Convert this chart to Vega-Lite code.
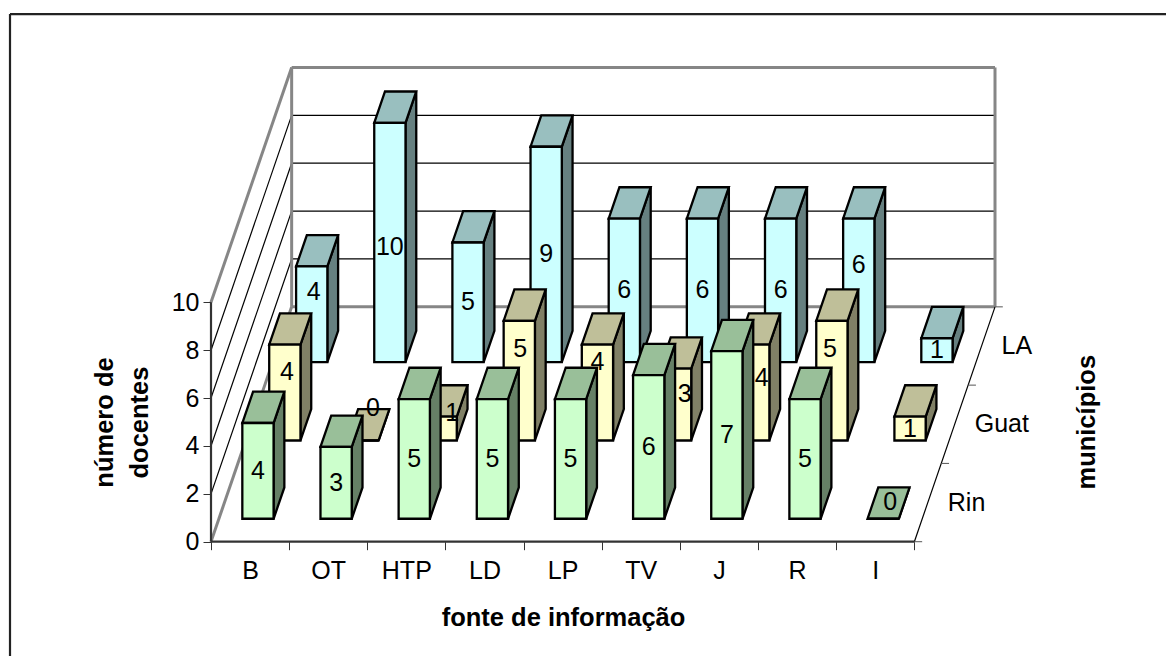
{
"$schema":"https://vega.github.io/schema/vega-lite/v6.json",
"width":1166,"height":656,"padding":0,"autosize":{"type":"none"},
"background":"white",
"view":{"stroke":null},
"config":{"font":"Liberation Sans"},
"data":{"name":"barras","values":[
{"fonte":"B","municipio":"Rin","docentes":4},{"fonte":"OT","municipio":"Rin","docentes":3},{"fonte":"HTP","municipio":"Rin","docentes":5},{"fonte":"LD","municipio":"Rin","docentes":5},{"fonte":"LP","municipio":"Rin","docentes":5},{"fonte":"TV","municipio":"Rin","docentes":6},{"fonte":"J","municipio":"Rin","docentes":7},{"fonte":"R","municipio":"Rin","docentes":5},{"fonte":"I","municipio":"Rin","docentes":0},
{"fonte":"B","municipio":"Guat","docentes":4},{"fonte":"OT","municipio":"Guat","docentes":0},{"fonte":"HTP","municipio":"Guat","docentes":1},{"fonte":"LD","municipio":"Guat","docentes":5},{"fonte":"LP","municipio":"Guat","docentes":4},{"fonte":"TV","municipio":"Guat","docentes":3},{"fonte":"J","municipio":"Guat","docentes":4},{"fonte":"R","municipio":"Guat","docentes":5},{"fonte":"I","municipio":"Guat","docentes":1},
{"fonte":"B","municipio":"LA","docentes":4},{"fonte":"OT","municipio":"LA","docentes":10},{"fonte":"HTP","municipio":"LA","docentes":5},{"fonte":"LD","municipio":"LA","docentes":9},{"fonte":"LP","municipio":"LA","docentes":6},{"fonte":"TV","municipio":"LA","docentes":6},{"fonte":"J","municipio":"LA","docentes":6},{"fonte":"R","municipio":"LA","docentes":6},{"fonte":"I","municipio":"LA","docentes":1}
]},
"transform":[
{"calculate":"indexof(['B','OT','HTP','LD','LP','TV','J','R','I'],datum.fonte)","as":"i"},
{"calculate":"indexof(['Rin','Guat','LA'],datum.municipio)","as":"s"},
{"calculate":"datum.i+0.3+(datum.s+0.293)*0.344","as":"xl"},
{"calculate":"datum.xl+0.4","as":"xr"},
{"calculate":"(datum.s+0.293)*3.27","as":"yb"},
{"calculate":"datum.yb+datum.docentes","as":"yt"},
{"calculate":"0","as":"a"},{"calculate":"1","as":"b"},
{"fold":["a","b"],"as":["k","t"]},
{"calculate":"datum.xr+datum.t*0.1376","as":"sx"},
{"calculate":"datum.yt+datum.t*1.308","as":"sy"},
{"calculate":"datum.yb+datum.t*1.308","as":"sy2"},
{"calculate":"datum.xl+datum.t*0.1376","as":"tx"},
{"calculate":"datum.xr+datum.t*0.1376","as":"tx2"},
{"calculate":"{'Guat|B':[2,-21],'Guat|OT':[10,-32],'Guat|HTP':[11,-16],'Guat|LD':[1,-32],'Guat|LP':[0,-31],'Guat|TV':[9,-11],'Guat|J':[8,-15],'Guat|R':[-2,-32],'LA|B':[2,-22],'LA|OT':[0,5],'LA|R':[0,-25],'Rin|I':[7,-17]}[datum.municipio+'|'+datum.fonte]||[0,0]","as":"shift"},
{"calculate":"(datum.xl+datum.xr)/2+datum.shift[0]/78.15","as":"lx"},
{"calculate":"(datum.yt+datum.yb)/2-datum.shift[1]/23.94","as":"ly"}
],
"layer":[
{"data":{"values":[{"linha":"g2"},{"linha":"g4"},{"linha":"g6"},{"linha":"g8"},{"linha":"e2"},{"linha":"e4"},{"linha":"e6"},{"linha":"e8"},{"linha":"p0"},{"linha":"p10"},{"linha":"f0"},{"linha":"f10"},{"linha":"ve"},{"linha":"vd"},{"linha":"ex"},{"linha":"ey"},{"linha":"cd"},{"linha":"t0"},{"linha":"t1"},{"linha":"t2"},{"linha":"t3"},{"linha":"bl"},{"linha":"bt"}]},
 "transform":[
 {"calculate":"{g2:[1.032,11.81,10.032,11.81,'grade'],g4:[1.032,13.81,10.032,13.81,'grade'],g6:[1.032,15.81,10.032,15.81,'grade'],g8:[1.032,17.81,10.032,17.81,'grade'],e2:[0,2,1.032,11.81,'grade'],e4:[0,4,1.032,13.81,'grade'],e6:[0,6,1.032,15.81,'grade'],e8:[0,8,1.032,17.81,'grade'],p0:[0,0,1.032,9.81,'parede'],p10:[0,10,1.032,19.81,'parede'],f0:[1.032,9.81,10.032,9.81,'parede'],f10:[1.032,19.81,10.032,19.81,'parede'],ve:[1.032,9.81,1.032,19.81,'parede'],vd:[10.032,9.81,10.032,19.81,'parede'],ex:[0,0,9,0,'eixo'],ey:[0,0,0,10,'eixo'],cd:[9,0,10.032,9.81,'grade'],t0:[9,0,9.1,0,'tick'],t1:[9.344,3.27,9.444,3.27,'tick'],t2:[9.688,6.54,9.788,6.54,'tick'],t3:[10.032,9.81,10.132,9.81,'tick'],bl:[-2.572,-4.774,-2.572,22.04,'borda'],bt:[-2.572,22.04,12.22,22.04,'borda']}[datum.linha]","as":"c"},
 {"calculate":"datum.c[0]","as":"x1"},{"calculate":"datum.c[1]","as":"y1"},{"calculate":"datum.c[2]","as":"x2"},{"calculate":"datum.c[3]","as":"y2"},{"calculate":"datum.c[4]","as":"tipo"}],
 "mark":{"type":"rule"},
 "encoding":{
  "x":{"field":"x1","type":"quantitative","scale":{"domain":[-2.7,12.22],"range":[0,1166],"nice":false,"zero":false},
       "axis":{"values":[0,1,2,3,4,5,6,7,8,9],"labelExpr":"['B','OT','HTP','LD','LP','TV','J','R','I',''][datum.value]","labelOffset":39,"domain":false,"grid":false,"orient":"bottom","offset":-114.3,"tickSize":8,"tickColor":"#333333","labelFontSize":25,"labelColor":"#000000","labelPadding":9,"labelFlush":false,"labelOverlap":false,
       "title":"fonte de informação","titleFontSize":25.5,"titleFontWeight":"bold","titleColor":"#000000","titleX":563,"titleY":84,"titleBaseline":"alphabetic","titleAlign":"center"}},
  "x2":{"field":"x2"},
  "y":{"field":"y1","type":"quantitative","scale":{"domain":[-4.774,22.627],"range":[656,0],"nice":false,"zero":false},
       "axis":{"values":[0,2,4,6,8,10],"domain":false,"grid":false,"orient":"left","offset":-211,"tickSize":8,"tickColor":"#333333","labelFontSize":25,"labelColor":"#000000","labelPadding":4,
       "title":["número de","docentes"],"titleFontSize":25.5,"titleFontWeight":"bold","titleColor":"#000000","titleAngle":-90,"titleX":-99,"titleY":422,"titleBaseline":"alphabetic","titleAlign":"center","titleLineHeight":35}},
  "y2":{"field":"y2"},
  "stroke":{"field":"tipo","type":"nominal","legend":null,"scale":{"domain":["grade","parede","eixo","tick","borda"],"range":["#000000","#868686","#333333","#555555","#222222"]}},
  "strokeWidth":{"field":"tipo","type":"nominal","legend":null,"scale":{"type":"ordinal","domain":["grade","parede","eixo","tick","borda"],"range":[1.2,3,2.2,1,2.2]}}
 }},
{"data":{"values":[{"municipio":"Rin","d":0.5},{"municipio":"Guat","d":1.5},{"municipio":"LA","d":2.5}]},
 "transform":[{"calculate":"9+datum.d*0.344","as":"x"},{"calculate":"datum.d*3.27","as":"y"}],
 "mark":{"type":"text","align":"left","baseline":"middle","dx":20,"fontSize":25,"fill":"#000000"},
 "encoding":{"x":{"field":"x","type":"quantitative"},"y":{"field":"y","type":"quantitative"},"text":{"field":"municipio"}}},
{"data":{"values":[{"titulo":"municípios","x":11.21,"y":4.99}]},
 "mark":{"type":"text","align":"center","baseline":"middle","angle":270,"fontSize":25.5,"fontWeight":"bold","fill":"#000000"},
 "encoding":{"x":{"field":"x","type":"quantitative"},"y":{"field":"y","type":"quantitative"},"text":{"field":"titulo"}}},

{"transform":[{"filter":"datum.municipio=='LA'"}],"mark":{"type":"area","fill":"#668080","stroke":"#000000","strokeWidth":2.3},
 "encoding":{"x":{"field":"sx","type":"quantitative"},"y":{"field":"sy","type":"quantitative"},"y2":{"field":"sy2"},"detail":{"field":"fonte"}}},
{"transform":[{"filter":"datum.municipio=='LA'"}],"mark":{"type":"area","orient":"horizontal","fill":"#99BFBF","stroke":"#000000","strokeWidth":2.3},
 "encoding":{"y":{"field":"sy","type":"quantitative"},"x":{"field":"tx","type":"quantitative"},"x2":{"field":"tx2"},"detail":{"field":"fonte"}}},
{"transform":[{"filter":"datum.municipio=='LA' && datum.t==0"}],"mark":{"type":"rect","fill":"#CCFFFF","stroke":"#000000","strokeWidth":2.3},
 "encoding":{"x":{"field":"xl","type":"quantitative"},"x2":{"field":"xr"},"y":{"field":"yb","type":"quantitative"},"y2":{"field":"yt"}}},

{"transform":[{"filter":"datum.municipio=='Guat'"}],"mark":{"type":"area","fill":"#808066","stroke":"#000000","strokeWidth":2.3},
 "encoding":{"x":{"field":"sx","type":"quantitative"},"y":{"field":"sy","type":"quantitative"},"y2":{"field":"sy2"},"detail":{"field":"fonte"}}},
{"transform":[{"filter":"datum.municipio=='Guat'"}],"mark":{"type":"area","orient":"horizontal","fill":"#BFBF99","stroke":"#000000","strokeWidth":2.3},
 "encoding":{"y":{"field":"sy","type":"quantitative"},"x":{"field":"tx","type":"quantitative"},"x2":{"field":"tx2"},"detail":{"field":"fonte"}}},
{"transform":[{"filter":"datum.municipio=='Guat' && datum.t==0"}],"mark":{"type":"rect","fill":"#FFFFCC","stroke":"#000000","strokeWidth":2.3},
 "encoding":{"x":{"field":"xl","type":"quantitative"},"x2":{"field":"xr"},"y":{"field":"yb","type":"quantitative"},"y2":{"field":"yt"}}},

{"transform":[{"filter":"datum.municipio=='Rin'"}],"mark":{"type":"area","fill":"#668066","stroke":"#000000","strokeWidth":2.3},
 "encoding":{"x":{"field":"sx","type":"quantitative"},"y":{"field":"sy","type":"quantitative"},"y2":{"field":"sy2"},"detail":{"field":"fonte"}}},
{"transform":[{"filter":"datum.municipio=='Rin'"}],"mark":{"type":"area","orient":"horizontal","fill":"#99BF99","stroke":"#000000","strokeWidth":2.3},
 "encoding":{"y":{"field":"sy","type":"quantitative"},"x":{"field":"tx","type":"quantitative"},"x2":{"field":"tx2"},"detail":{"field":"fonte"}}},
{"transform":[{"filter":"datum.municipio=='Rin' && datum.t==0"}],"mark":{"type":"rect","fill":"#CCFFCC","stroke":"#000000","strokeWidth":2.3},
 "encoding":{"x":{"field":"xl","type":"quantitative"},"x2":{"field":"xr"},"y":{"field":"yb","type":"quantitative"},"y2":{"field":"yt"}}},

{"transform":[{"filter":"datum.t==0"}],"mark":{"type":"text","align":"center","baseline":"middle","fontSize":25,"fill":"#000000"},
 "encoding":{"x":{"field":"lx","type":"quantitative"},"y":{"field":"ly","type":"quantitative"},"text":{"field":"docentes","type":"quantitative"}}}
]
}
